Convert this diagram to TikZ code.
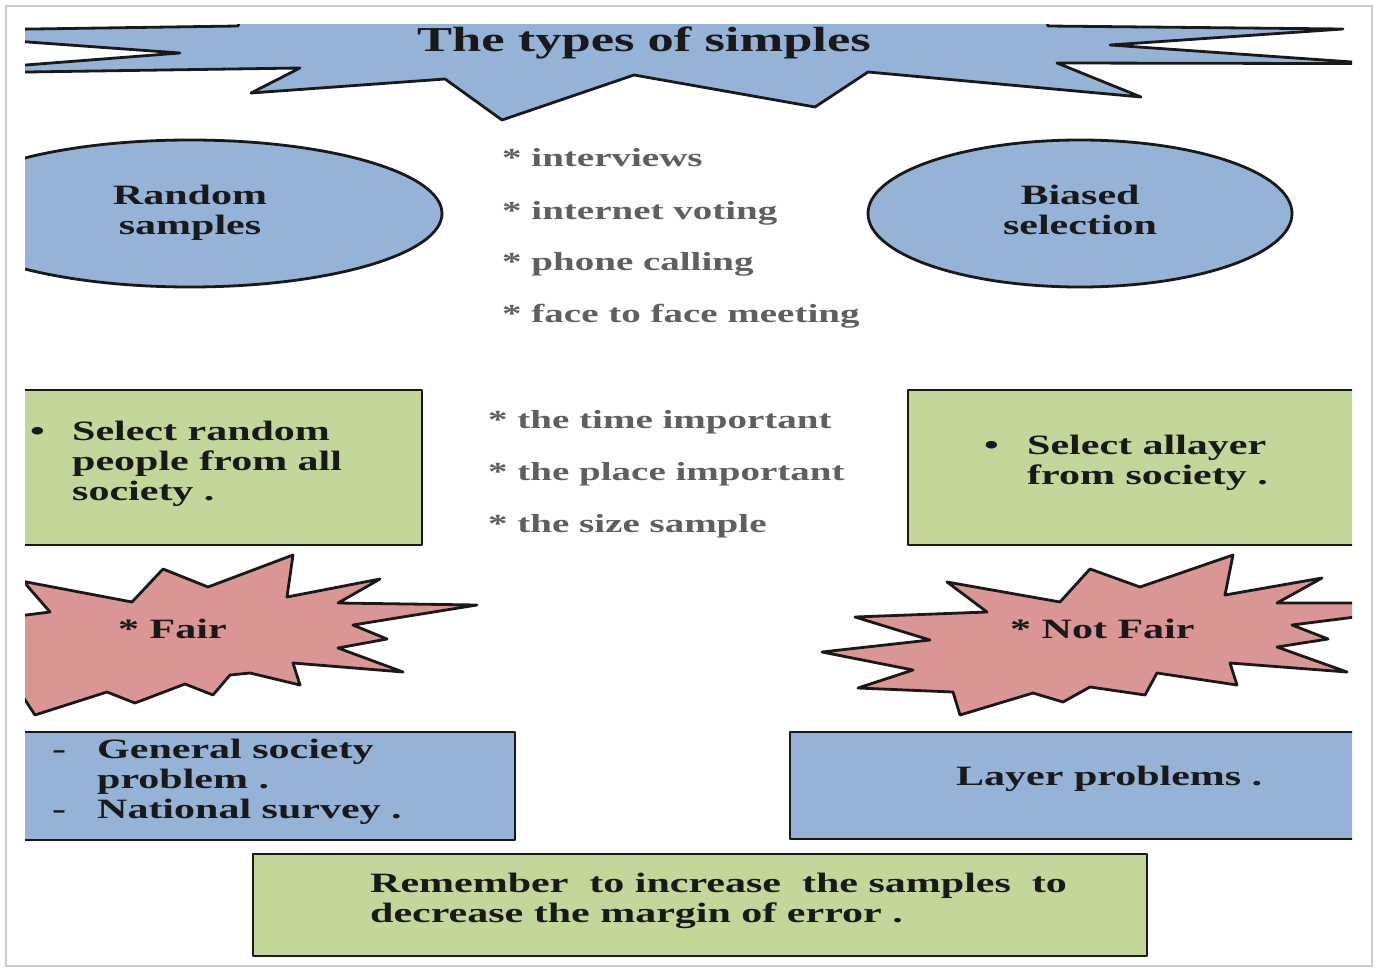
\documentclass[tikz,border=0pt]{standalone}
\usepackage{fontspec}
\setmainfont[FakeStretch=1.5]{Liberation Serif}
\usepackage{tikz}
\usetikzlibrary{shapes.geometric}
\definecolor{SkyFill}{RGB}{149,179,215}
\definecolor{LeafFill}{RGB}{196,215,155}
\definecolor{RoseFill}{RGB}{217,150,148}
\definecolor{ListGray}{RGB}{95,95,95}
\definecolor{InkBlack}{RGB}{25,25,25}
\newcommand{\Lead}[2]{\makebox[#1][l]{#2}}

\begin{document}
\begin{tikzpicture}[x=1pt,y=-1pt]
		\tikzset{Outline/.style = {draw=InkBlack,line width=2.8pt,line join=round}}
		\tikzset{BoxText/.style = {font=\bfseries\fontsize{28}{30}\selectfont,text=InkBlack,inner sep=0pt,anchor=base west}}
		\tikzset{ListText/.style = {font=\bfseries\fontsize{26}{52}\selectfont,text=ListGray,inner sep=0pt,anchor=base west}}
		% page
		\fill[white] (0,0) rectangle (1381,971);
		\draw[gray!40,line width=2pt] (6,6) rectangle (1372,966);
		\begin{scope}
			\clip (25,25) rectangle (1352,966);
			% title burst
			\filldraw[Outline,fill=SkyFill] (0,29.5) -- (238,26) -- (250,-10) -- (1040,-10) -- (1048,26) -- (1343,29) -- (1110,45) -- (1375,63.6) -- (1057,63) -- (1141,97) -- (868,72) -- (815,107) -- (634,75) -- (502,120) -- (445,79) -- (251,93) -- (300,68) -- (0,72.4) -- (0,67) -- (180,53) -- (0,40) -- cycle;
			\node[font=\bfseries\fontsize{35}{40}\selectfont,text=InkBlack,anchor=base] (title) at (644,52) {The types of simples};
			% ellipses
			{
				\tikzset{Oval/.style = {ellipse,Outline,fill=SkyFill,minimum height=147pt,inner sep=0pt,font=\bfseries\fontsize{28}{30}\selectfont,text=InkBlack}}
				\node[Oval,minimum width=504pt] (random) at (190,213.5) {\begin{tabular}{@{}c@{}}Random\\samples\end{tabular}};
				\node[Oval,minimum width=424pt] (biased) at (1080,213.5) {\begin{tabular}{@{}c@{}}Biased\\selection\end{tabular}};
			}
			% middle lists
			\node[ListText] (ways) at (502,167) {\begin{tabular}[t]{@{}l@{}}{*} interviews\\{*} internet voting\\{*} phone calling\\{*} face to face meeting\end{tabular}};
			\node[ListText] (points) at (488,428) {\begin{tabular}[t]{@{}l@{}}{*} the time important\\{*} the place important\\{*} the size sample\end{tabular}};
			% green boxes
			\filldraw[Outline,fill=LeafFill] (10,390) rectangle (422,545);
			\node[BoxText] (randomsel) at (30,440) {\begin{tabular}[t]{@{}l@{}}\Lead{42pt}{\textbullet}Select random\\\Lead{42pt}{}people from all\\\Lead{42pt}{}society .\end{tabular}};
			\filldraw[Outline,fill=LeafFill] (908,390) rectangle (1375,545);
			\node[BoxText] (layersel) at (984,454) {\begin{tabular}[t]{@{}l@{}}\Lead{43pt}{\textbullet}Select allayer\\\Lead{43pt}{}from society .\end{tabular}};
			% bursts
			\filldraw[Outline,fill=RoseFill] (0,577) -- (132,602) -- (163,569) -- (208,587) -- (293,555) -- (287,597) -- (380,579) -- (338,603) -- (477,605) -- (353,625) -- (387,639) -- (338,648) -- (403,672) -- (293,663) -- (300,685) -- (250,673) -- (230,675) -- (213,695) -- (185,684) -- (135,703) -- (107,692) -- (35,715) -- (10,677) -- (10,617) -- (50,612) -- (10,566) -- cycle;
			\node[BoxText] (fair) at (118,638) {* Fair};
			\filldraw[Outline,fill=RoseFill] (947,582) -- (1060,602) -- (1090,569) -- (1140,587) -- (1233,555) -- (1225,595) -- (1322,578) -- (1277,603) -- (1375,603) -- (1375,614.5) -- (1292,625) -- (1328,639) -- (1277,647) -- (1347,672) -- (1230,663) -- (1237,685) -- (1157,673) -- (1145,695) -- (1090,687) -- (1063,702) -- (1033,693) -- (960,715) -- (953,692) -- (858,688) -- (913,670) -- (822,652) -- (930,640) -- (855,617) -- (987,612) -- cycle;
			\node[BoxText] (notfair) at (1010,638) {* Not Fair};
			% blue boxes
			\filldraw[Outline,fill=SkyFill] (10,732) rectangle (515,840);
			\node[BoxText] (general) at (52,758) {\begin{tabular}[t]{@{}l@{}}\Lead{45pt}{-}General society\\\Lead{45pt}{}problem .\\\Lead{45pt}{-}National survey .\end{tabular}};
			\filldraw[Outline,fill=SkyFill] (790,732) rectangle (1375,839);
			\node[BoxText] (layer) at (956,785) {Layer problems .};
			%\draw[gray!30] (25,727) -- (1352,727);
		\end{scope}
		% reminder
		\filldraw[Outline,fill=LeafFill] (253,854) rectangle (1147,956);
		\node[BoxText] (remember) at (370,892) {\begin{tabular}[t]{@{}l@{}}Remember\ \ to increase\ \ the samples\ \ to\\decrease the margin of error .\end{tabular}};
	\end{tikzpicture}
\end{document}
